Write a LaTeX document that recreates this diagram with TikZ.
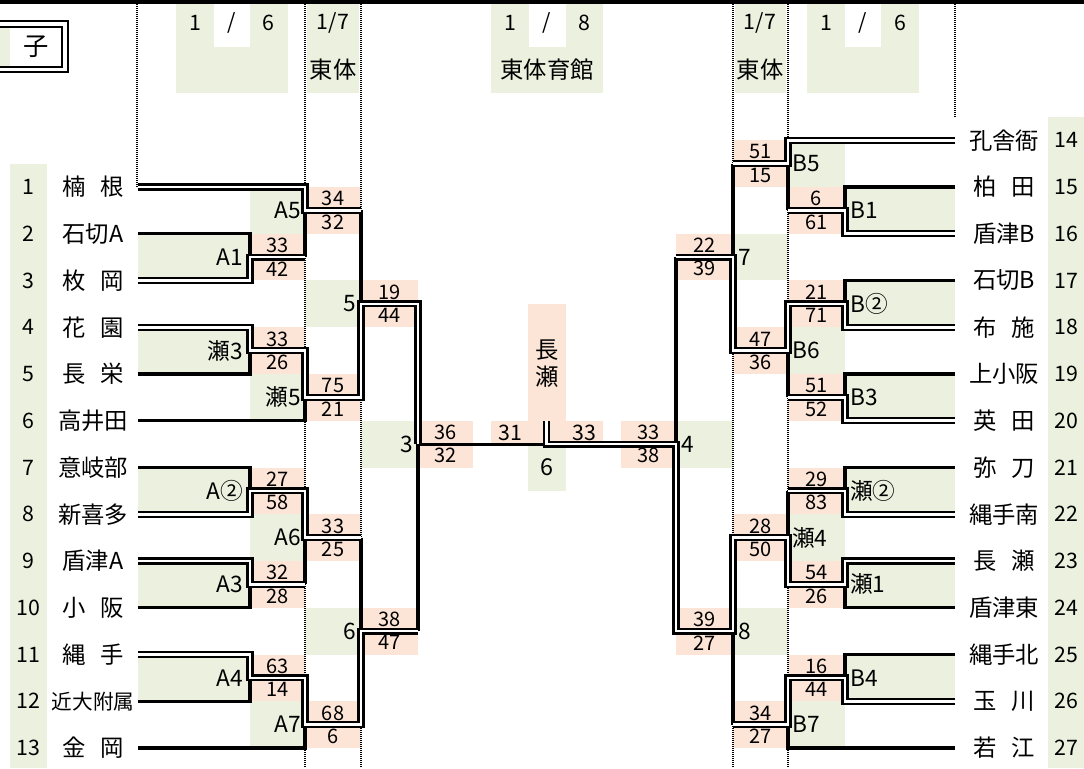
\documentclass[tikz,border=0pt]{standalone}
\usepackage{fontspec}
\setmainfont{Noto Sans CJK JP}
\usepackage{tikz}
\usetikzlibrary{calc,positioning}
\usepackage{xcolor}
\definecolor{cellgreen}{HTML}{EBF1DE}
\definecolor{cellpeach}{HTML}{FCE4D6}
\newcommand{\gap}{\hspace{0.6em}}
\newcommand{\scorepair}[6]{%
	\fill[cellpeach] (#1,#3) rectangle (#2,#3+2);
	\node[score] (#6t) at ({(#1+#2)/2},#3+0.5) {#4};
	\node[score] (#6b) at ({(#1+#2)/2},#3+1.5) {#5};}

\begin{document}
\begin{tikzpicture}[
		x=0.75pt, y=-17.53125pt,
		team/.style={inner sep=0pt, font=\fontsize{17.5}{17.5}\selectfont},
		tnum/.style={inner sep=0pt, font=\fontsize{16}{16}\selectfont},
		score/.style={inner sep=0pt, font=\fontsize{15}{15}\selectfont},
		mlabel/.style={inner sep=0pt, font=\fontsize{17}{17}\selectfont},
		headtext/.style={inner sep=0pt, font=\fontsize{16}{16}\selectfont},
		loss/.style={line width=2.3pt},
		win/.style={double, line width=1.7pt, double distance=2pt},
		dotline/.style={line width=1.5pt, black, dash pattern=on 0.75pt off 0.75pt},
		]

	\useasboundingbox (0,0) rectangle (1084,32.856);

	% --- header ---
	\fill (0,0) rectangle (1084,0.18);
	\fill[cellgreen] (176,0.18) rectangle (288,4);
	\fill[white] (214,0.18) rectangle (250,2);
	\fill[cellgreen] (307,0.18) rectangle (359,4);
	\fill[cellgreen] (491,0.18) rectangle (603,4);
	\fill[white] (529,0.18) rectangle (566,2);
	\fill[cellgreen] (735,0.18) rectangle (786,4);
	\fill[cellgreen] (807,0.18) rectangle (919,4);
	\fill[white] (845,0.18) rectangle (881,2);

	\node[headtext] (d6a) at (195,1) {1};
	\node[headtext] (d6s) at (232,1) {/};
	\node[headtext] (d6b) at (268,1) {6};
	\node[headtext] (d7L) at (333,1) {1/7};
	\node[team] (v7L) at (333,3) {東体};
	\node[headtext] (d8a) at (510,1) {1};
	\node[headtext] (d8s) at (547,1) {/};
	\node[headtext] (d8b) at (584,1) {8};
	\node[team] (v8) at (547,3) {東体育館};
	\node[headtext] (d7R) at (760,1) {1/7};
	\node[team] (v7R) at (760,3) {東体};
	\node[headtext] (d6c) at (826,1) {1};
	\node[headtext] (d6t) at (863,1) {/};
	\node[headtext] (d6d) at (900,1) {6};

	\fill[cellgreen] (-5,1.15) rectangle (10,2.87);
	\draw[win, line width=1.5pt, double distance=2.4pt] (-10,1.03) rectangle (65,2.99);
	\node[team, font=\fontsize{19}{19}\selectfont] (sex) at (36,2) {子};

	% --- number columns ---
	\fill[cellgreen] (10,7) rectangle (47,32.86);
	\fill[cellgreen] (1048,5) rectangle (1084,32.86);

	% --- match cells ---
	\fill[cellgreen] (138,10) rectangle (250,12);
	\fill[cellgreen] (138,14) rectangle (250,16);
	\fill[cellgreen] (138,20) rectangle (250,22);
	\fill[cellgreen] (138,24) rectangle (250,26);
	\fill[cellgreen] (138,28) rectangle (250,30);
	\fill[cellgreen] (250,8) rectangle (305,10);
	\fill[cellgreen] (250,16) rectangle (305,18);
	\fill[cellgreen] (250,22) rectangle (305,24);
	\fill[cellgreen] (250,30) rectangle (305,32);
	\fill[cellgreen] (305,12) rectangle (361,14);
	\fill[cellgreen] (305,26) rectangle (361,28);
	\fill[cellgreen] (361,18) rectangle (418,20);

	\fill[cellgreen] (845,8) rectangle (955,10);
	\fill[cellgreen] (845,12) rectangle (955,14);
	\fill[cellgreen] (845,16) rectangle (955,18);
	\fill[cellgreen] (845,20) rectangle (955,22);
	\fill[cellgreen] (845,24) rectangle (955,26);
	\fill[cellgreen] (845,28) rectangle (955,30);
	\fill[cellgreen] (788,6) rectangle (845,8);
	\fill[cellgreen] (788,14) rectangle (845,16);
	\fill[cellgreen] (788,22) rectangle (845,24);
	\fill[cellgreen] (788,30) rectangle (845,32);
	\fill[cellgreen] (733,10) rectangle (788,12);
	\fill[cellgreen] (733,26) rectangle (788,28);
	\fill[cellgreen] (676,18) rectangle (733,20);

	\fill[cellpeach] (528,13) rectangle (566,19);
	\fill[cellpeach] (491,18) rectangle (528,19);
	\fill[cellpeach] (566,18) rectangle (603,19);
	\fill[cellgreen] (528,19) rectangle (566,21);

	% --- scores ---
	\scorepair{250}{305}{10}{33}{42}{sA1}
	\scorepair{250}{305}{14}{33}{26}{sS3}
	\scorepair{250}{305}{20}{27}{58}{sA2}
	\scorepair{250}{305}{24}{32}{28}{sA3}
	\scorepair{250}{305}{28}{63}{14}{sA4}
	\scorepair{305}{361}{8}{34}{32}{sA5}
	\scorepair{305}{361}{16}{75}{21}{sS5}
	\scorepair{305}{361}{22}{33}{25}{sA6}
	\scorepair{305}{361}{30}{68}{6}{sA7}
	\scorepair{361}{418}{12}{19}{44}{s5}
	\scorepair{361}{418}{26}{38}{47}{s6}
	\scorepair{418}{473}{18}{36}{32}{s3}

	\scorepair{788}{845}{8}{6}{61}{sB1}
	\scorepair{788}{845}{12}{21}{71}{sB2}
	\scorepair{788}{845}{16}{51}{52}{sB3}
	\scorepair{788}{845}{20}{29}{83}{sS2}
	\scorepair{788}{845}{24}{54}{26}{sS1}
	\scorepair{788}{845}{28}{16}{44}{sB4}
	\scorepair{733}{788}{6}{51}{15}{sB5}
	\scorepair{733}{788}{14}{47}{36}{sB6}
	\scorepair{733}{788}{22}{28}{50}{sS4}
	\scorepair{733}{788}{30}{34}{27}{sB7}
	\scorepair{676}{733}{10}{22}{39}{s7}
	\scorepair{676}{733}{26}{39}{27}{s8}
	\scorepair{621}{676}{18}{33}{38}{s4}

	\node[score, font=\fontsize{16}{16}\selectfont] (f31) at (510,18.5) {31};
	\node[score, font=\fontsize{16}{16}\selectfont] (f33) at (584,18.5) {33};
	\node[team] (ch1) at (547,15) {長};
	\node[team] (ch2) at (547,16.1) {瀬};
	\node[team] (f6) at (547,20) {6};

	% --- dotted rules ---
	\draw[dotline] (137,0.18) -- (137,8);
	\draw[dotline] (305,0.18) -- (305,32.86);
	\draw[dotline] (361,0.18) -- (361,32.86);
	\draw[dotline] (733,0.18) -- (733,32.86);
	\draw[dotline] (788,0.18) -- (788,32.86);
	\draw[dotline] (955,0.18) -- (955,5);

	% --- teams, left ---
	\node[tnum] (n1) at (28,8) {1};    \node[team] (t1) at (93,8) {楠\gap 根};
	\node[tnum] (n2) at (28,10) {2};   \node[team] (t2) at (93,10) {石切A};
	\node[tnum] (n3) at (28,12) {3};   \node[team] (t3) at (93,12) {枚\gap 岡};
	\node[tnum] (n4) at (28,14) {4};   \node[team] (t4) at (93,14) {花\gap 園};
	\node[tnum] (n5) at (28,16) {5};   \node[team] (t5) at (93,16) {長\gap 栄};
	\node[tnum] (n6) at (28,18) {6};   \node[team] (t6) at (93,18) {高井田};
	\node[tnum] (n7) at (28,20) {7};   \node[team] (t7) at (93,20) {意岐部};
	\node[tnum] (n8) at (28,22) {8};   \node[team] (t8) at (93,22) {新喜多};
	\node[tnum] (n9) at (28,24) {9};   \node[team] (t9) at (93,24) {盾津A};
	\node[tnum] (n10) at (28,26) {10}; \node[team] (t10) at (93,26) {小\gap 阪};
	\node[tnum] (n11) at (28,28) {11}; \node[team] (t11) at (93,28) {縄\gap 手};
	\node[tnum] (n12) at (28,30) {12}; \node[team, font=\fontsize{15.5}{15.5}\selectfont] (t12) at (93,30) {近大附属};
	\node[tnum] (n13) at (28,32) {13}; \node[team] (t13) at (93,32) {金\gap 岡};

	% --- teams, right ---
	\node[team] (t14) at (1004,6) {孔舎衙};  \node[tnum] (n14) at (1066,6) {14};
	\node[team] (t15) at (1004,8) {柏\gap 田};  \node[tnum] (n15) at (1066,8) {15};
	\node[team] (t16) at (1004,10) {盾津B};  \node[tnum] (n16) at (1066,10) {16};
	\node[team] (t17) at (1004,12) {石切B};  \node[tnum] (n17) at (1066,12) {17};
	\node[team] (t18) at (1004,14) {布\gap 施};  \node[tnum] (n18) at (1066,14) {18};
	\node[team] (t19) at (1004,16) {上小阪};  \node[tnum] (n19) at (1066,16) {19};
	\node[team] (t20) at (1004,18) {英\gap 田};  \node[tnum] (n20) at (1066,18) {20};
	\node[team] (t21) at (1004,20) {弥\gap 刀};  \node[tnum] (n21) at (1066,20) {21};
	\node[team] (t22) at (1004,22) {縄手南};  \node[tnum] (n22) at (1066,22) {22};
	\node[team] (t23) at (1004,24) {長\gap 瀬};  \node[tnum] (n23) at (1066,24) {23};
	\node[team] (t24) at (1004,26) {盾津東};  \node[tnum] (n24) at (1066,26) {24};
	\node[team] (t25) at (1004,28) {縄手北};  \node[tnum] (n25) at (1066,28) {25};
	\node[team] (t26) at (1004,30) {玉\gap 川};  \node[tnum] (n26) at (1066,30) {26};
	\node[team] (t27) at (1004,32) {若\gap 江};  \node[tnum] (n27) at (1066,32) {27};

	% --- match labels ---
	\node[mlabel, anchor=east] (lA1) at (243,11) {A1};
	\node[mlabel, anchor=east] (lS3) at (243,15) {瀬3};
	\node[mlabel, anchor=east] (lA2) at (243,21) {A②};
	\node[mlabel, anchor=east] (lA3) at (243,25) {A3};
	\node[mlabel, anchor=east] (lA4) at (243,29) {A4};
	\node[mlabel, anchor=east] (lA5) at (301,9) {A5};
	\node[mlabel, anchor=east] (lS5) at (301,17) {瀬5};
	\node[mlabel, anchor=east] (lA6) at (301,23) {A6};
	\node[mlabel, anchor=east] (lA7) at (301,31) {A7};
	\node[mlabel, anchor=east] (l5) at (356,13) {5};
	\node[mlabel, anchor=east] (l6) at (356,27) {6};
	\node[mlabel, anchor=east] (l3) at (413,19) {3};

	\node[mlabel, anchor=west] (lB1) at (850,9) {B1};
	\node[mlabel, anchor=west] (lB2) at (850,13) {B②};
	\node[mlabel, anchor=west] (lB3) at (850,17) {B3};
	\node[mlabel, anchor=west] (lS2) at (850,21) {瀬②};
	\node[mlabel, anchor=west] (lS1) at (850,25) {瀬1};
	\node[mlabel, anchor=west] (lB4) at (850,29) {B4};
	\node[mlabel, anchor=west] (lB5) at (792,7) {B5};
	\node[mlabel, anchor=west] (lB6) at (792,15) {B6};
	\node[mlabel, anchor=west] (lS4) at (792,23) {瀬4};
	\node[mlabel, anchor=west] (lB7) at (792,31) {B7};
	\node[mlabel, anchor=west] (l7) at (738,11) {7};
	\node[mlabel, anchor=west] (l8) at (738,27) {8};
	\node[mlabel, anchor=west] (l4) at (681,19) {4};

	% --- line ends and match points ---
	\coordinate (L1) at (138,8);   \coordinate (L2) at (138,10);
	\coordinate (L3) at (138,12);  \coordinate (L4) at (138,14);
	\coordinate (L5) at (138,16);  \coordinate (L6) at (138,18);
	\coordinate (L7) at (138,20);  \coordinate (L8) at (138,22);
	\coordinate (L9) at (138,24);  \coordinate (L10) at (138,26);
	\coordinate (L11) at (138,28); \coordinate (L12) at (138,30);
	\coordinate (L13) at (138,32);
	\coordinate (R14) at (955,6);  \coordinate (R15) at (955,8);
	\coordinate (R16) at (955,10); \coordinate (R17) at (955,12);
	\coordinate (R18) at (955,14); \coordinate (R19) at (955,16);
	\coordinate (R20) at (955,18); \coordinate (R21) at (955,20);
	\coordinate (R22) at (955,22); \coordinate (R23) at (955,24);
	\coordinate (R24) at (955,26); \coordinate (R25) at (955,28);
	\coordinate (R26) at (955,30); \coordinate (R27) at (955,32);

	\coordinate (mA1) at (250,11); \coordinate (mS3) at (250,15);
	\coordinate (mA2) at (250,21); \coordinate (mA3) at (250,25);
	\coordinate (mA4) at (250,29);
	\coordinate (mA5) at (305,9);  \coordinate (mS5) at (305,17);
	\coordinate (mA6) at (305,23); \coordinate (mA7) at (305,31);
	\coordinate (m5) at (361,13);  \coordinate (m6) at (361,27);
	\coordinate (m3) at (418,19);
	\coordinate (fin) at (546.5,19); \coordinate (cup) at (546.5,18);
	\coordinate (mB1) at (845,9);  \coordinate (mB2) at (845,13);
	\coordinate (mB3) at (845,17); \coordinate (mS2) at (845,21);
	\coordinate (mS1) at (845,25); \coordinate (mB4) at (845,29);
	\coordinate (mB5) at (788,7);  \coordinate (mB6) at (788,15);
	\coordinate (mS4) at (788,23); \coordinate (mB7) at (788,31);
	\coordinate (m7) at (733,11);  \coordinate (m8) at (733,27);
	\coordinate (m4) at (676,19);

	% --- single lines ---
	\draw[loss] (L2) -| (mA1);
	\draw[loss] (mA1 -| mA5) -- (mA5);
	\draw[loss] (L5) -| (mS3);
	\draw[loss] (L6) -| (mS5);
	\draw[loss] (mA5 -| m5) -- (m5);
	\draw[loss] (L7) -| (mA2);
	\draw[loss] (mA3 -| mA6) -- (mA6);
	\draw[loss] (L10) -| (mA3);
	\draw[loss] (mA6 -| m6) -- (m6);
	\draw[loss] (L12) -| (mA4);
	\draw[loss] (L13) -| (mA7);
	\draw[loss] (m6 -| m3) -- (m3) -- (fin);

	\draw[loss] (R15) -| (mB1);
	\draw[loss] (mB1 -| mB5) -- (mB5);
	\draw[loss] (mB5 -| m7) -- (m7);
	\draw[loss] (R17) -| (mB2);
	\draw[loss] (mB3 -| mB6) -- (mB6);
	\draw[loss] (R19) -| (mB3);
	\draw[loss] (m7 -| m4) -- (m4);
	\draw[loss] (R21) -| (mS2);
	\draw[loss] (mS2 -| mS4) -- (mS4);
	\draw[loss] (R24) -| (mS1);
	\draw[loss] (mB7 -| m8) -- (m8);
	\draw[loss] (R25) -| (mB4);
	\draw[loss] (R27) -| (mB7);

	% --- winners ---
	\draw[win] (L1) -| (mA5) -- (mA5 -| m5);
	\draw[win] (L3) -| (mA1) -- (mA1 -| mA5);
	\draw[win] (L4) -| (mS3) -| (mS5) -| (m5) -| (m3);
	\draw[win] (L8) -| (mA2) -| (mA6) -- (mA6 -| m6);
	\draw[win] (L9) -| (mA3) -- (mA3 -| mA6);
	\draw[win] (L11) -| (mA4) -| (mA7) -| (m6) -- (m6 -| m3);

	\draw[win] (R14) -| (mB5) -- (mB5 -| m7);
	\draw[win] (R16) -| (mB1) -- (mB1 -| mB5);
	\draw[win] (R18) -| (mB2) -| (mB6) -| (m7) -- (m7 -| m4);
	\draw[win] (R20) -| (mB3) -- (mB3 -| mB6);
	\draw[win] (R22) -| (mS2) -- (mS2 -| mS4);
	\draw[win] (R23) -| (mS1) -| (mS4) -| (m8) -| (m4) -- (fin) -- (cup);
	\draw[win] (R26) -| (mB4) -| (mB7) -- (mB7 -| m8);

\end{tikzpicture}
\end{document}
